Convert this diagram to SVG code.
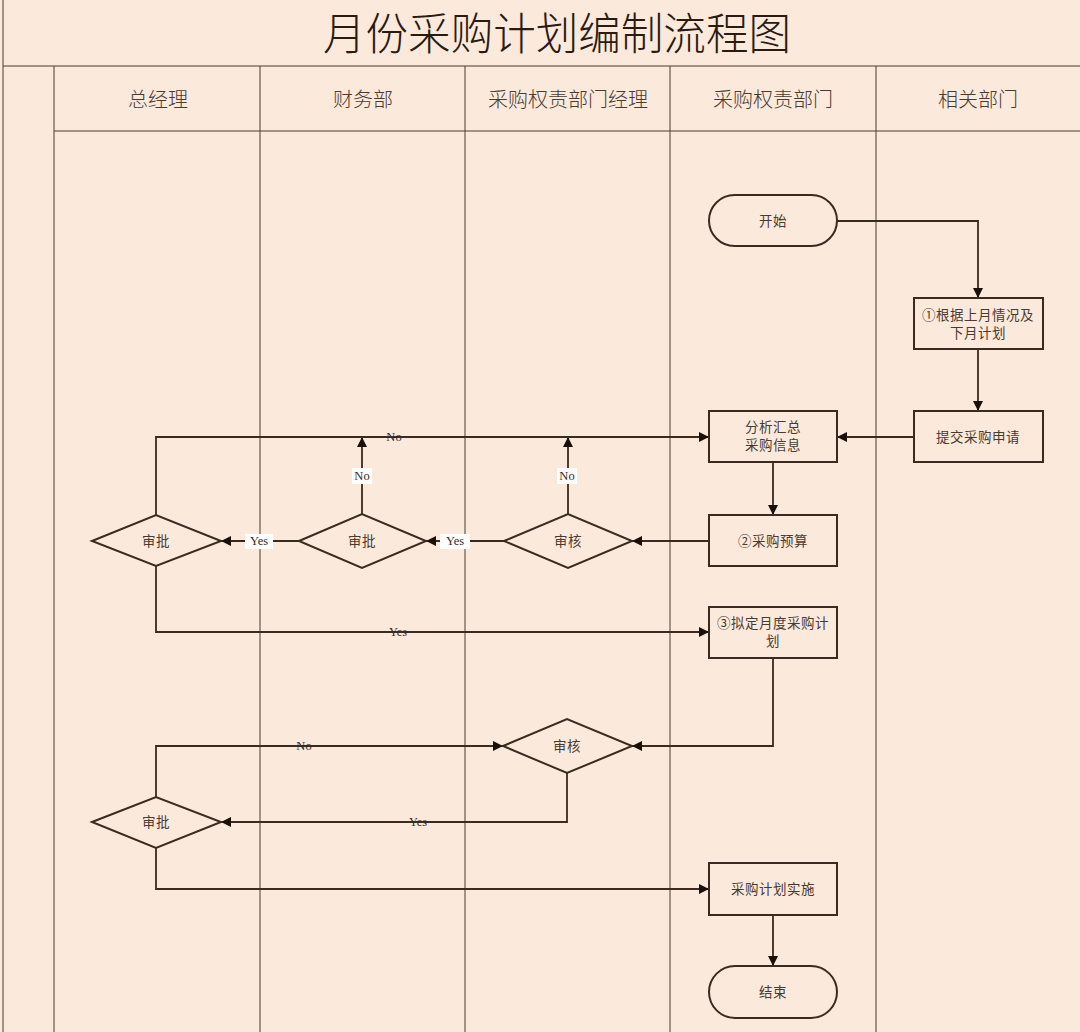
<svg xmlns="http://www.w3.org/2000/svg" width="1080" height="1032" viewBox="0 0 1080 1032">
<defs>
<style>
.grid{stroke:#4a3a30;stroke-width:1;fill:none}
.shape{fill:#fbe9dc;stroke:#3a2a20;stroke-width:2}
.conn{fill:none;stroke:#3a2a20;stroke-width:1.8}
.title{font-family:"Noto Sans CJK SC",sans-serif;font-weight:300;font-size:44px;fill:#2a1a10;text-anchor:middle}
.hdr{font-family:"Noto Sans CJK SC",sans-serif;font-weight:300;font-size:20px;fill:#4a3a30;text-anchor:middle}
.txt{font-family:"Noto Sans CJK SC",sans-serif;font-size:13.5px;letter-spacing:0.5px;fill:#4a3a30;text-anchor:middle}
.lbl{font-family:"Liberation Serif",serif;font-size:12.5px;fill:#3a2a20;text-anchor:middle}
.lblbg{fill:#ffffff}
</style>
<marker id="arr" viewBox="0 0 10 10" refX="10" refY="5" markerWidth="10" markerHeight="10" markerUnits="userSpaceOnUse" orient="auto">
<path d="M0,0 L10,5 L0,10 z" fill="#1a100a"/>
</marker>
</defs>
<rect x="0" y="0" width="1080" height="1032" fill="#fbe9dc"/>
<g id="frame">
<line class="grid" x1="3" y1="0" x2="3" y2="1032"/>
<line class="grid" x1="3" y1="66" x2="1080" y2="66"/>
<line class="grid" x1="54" y1="131" x2="1080" y2="131"/>
<line class="grid" x1="54" y1="66" x2="54" y2="1032"/>
<line class="grid" x1="260" y1="66" x2="260" y2="1032"/>
<line class="grid" x1="465" y1="66" x2="465" y2="1032"/>
<line class="grid" x1="670" y1="66" x2="670" y2="1032"/>
<line class="grid" x1="876" y1="66" x2="876" y2="1032"/>
<text class="title" x="557" y="50" textLength="468" lengthAdjust="spacingAndGlyphs">月份采购计划编制流程图</text>
<text class="hdr" x="158" y="107">总经理</text>
<text class="hdr" x="363" y="107">财务部</text>
<text class="hdr" x="568" y="107">采购权责部门经理</text>
<text class="hdr" x="773" y="107">采购权责部门</text>
<text class="hdr" x="978" y="107">相关部门</text>
</g>
<g id="connectors">
<polyline class="conn" points="837,221 978,221 978,298" marker-end="url(#arr)"/>
<line class="conn" x1="978" y1="349" x2="978" y2="411" marker-end="url(#arr)"/>
<line class="conn" x1="914" y1="437" x2="837" y2="437" marker-end="url(#arr)"/>
<line class="conn" x1="773" y1="463" x2="773" y2="515" marker-end="url(#arr)"/>
<line class="conn" x1="709" y1="541" x2="632" y2="541" marker-end="url(#arr)"/>
<line class="conn" x1="504" y1="541" x2="426" y2="541" marker-end="url(#arr)"/>
<line class="conn" x1="299" y1="541" x2="221" y2="541" marker-end="url(#arr)"/>
<line class="conn" x1="568" y1="514" x2="568" y2="437" marker-end="url(#arr)"/>
<line class="conn" x1="362" y1="514" x2="362" y2="437" marker-end="url(#arr)"/>
<polyline class="conn" points="156,515 156,437 709,437" marker-end="url(#arr)"/>
<polyline class="conn" points="156,566 156,632 709,632" marker-end="url(#arr)"/>
<polyline class="conn" points="773,658 773,746 632,746" marker-end="url(#arr)"/>
<polyline class="conn" points="567,773 567,822 221,822" marker-end="url(#arr)"/>
<polyline class="conn" points="156,797 156,746 503,746" marker-end="url(#arr)"/>
<polyline class="conn" points="156,848 156,889 709,889" marker-end="url(#arr)"/>
<line class="conn" x1="773" y1="915" x2="773" y2="966" marker-end="url(#arr)"/>
<rect class="lblbg" x="440" y="534" width="30" height="15"/>
<text class="lbl" x="455" y="545">Yes</text>
<rect class="lblbg" x="245" y="534" width="28" height="15"/>
<text class="lbl" x="259" y="545">Yes</text>
<rect class="lblbg" x="557" y="468" width="20" height="16"/>
<text class="lbl" x="567" y="480">No</text>
<rect class="lblbg" x="352" y="468" width="20" height="16"/>
<text class="lbl" x="362" y="480">No</text>
<text class="lbl" x="394" y="441">No</text>
<text class="lbl" x="398" y="636">Yes</text>
<text class="lbl" x="304" y="750">No</text>
<text class="lbl" x="418" y="826">Yes</text>
</g>
<g id="start"><rect class="shape" x="709" y="195" width="128" height="51" rx="25.5"/><text class="txt" x="773" y="226">开始</text></g>
<g id="n1"><rect class="shape" x="914" y="298" width="129" height="51"/><text class="txt" x="978" y="320">①根据上月情况及</text><text class="txt" x="978" y="338">下月计划</text></g>
<g id="n2"><rect class="shape" x="914" y="411" width="129" height="51"/><text class="txt" x="978" y="442">提交采购申请</text></g>
<g id="n3"><rect class="shape" x="709" y="411" width="128" height="51"/><text class="txt" x="773" y="432">分析汇总</text><text class="txt" x="773" y="450">采购信息</text></g>
<g id="n4"><rect class="shape" x="709" y="515" width="128" height="51"/><text class="txt" x="773" y="546">②采购预算</text></g>
<g id="d1"><polygon class="shape" points="504,541 568,514 632,541 568,568"/><text class="txt" x="568" y="546">审核</text></g>
<g id="d2"><polygon class="shape" points="299,541 362,514 426,541 362,568"/><text class="txt" x="362" y="546">审批</text></g>
<g id="d3"><polygon class="shape" points="92,541 156,515 221,541 156,566"/><text class="txt" x="156" y="546">审批</text></g>
<g id="n5"><rect class="shape" x="709" y="607" width="128" height="51"/><text class="txt" x="773" y="628">③拟定月度采购计</text><text class="txt" x="773" y="646">划</text></g>
<g id="d4"><polygon class="shape" points="503,746 567,719 632,746 567,773"/><text class="txt" x="567" y="751">审核</text></g>
<g id="d5"><polygon class="shape" points="92,822 156,797 221,822 156,848"/><text class="txt" x="156" y="827">审批</text></g>
<g id="n6"><rect class="shape" x="709" y="863" width="128" height="52"/><text class="txt" x="773" y="894">采购计划实施</text></g>
<g id="end"><rect class="shape" x="709" y="966" width="128" height="52" rx="26"/><text class="txt" x="773" y="997">结束</text></g>
</svg>
